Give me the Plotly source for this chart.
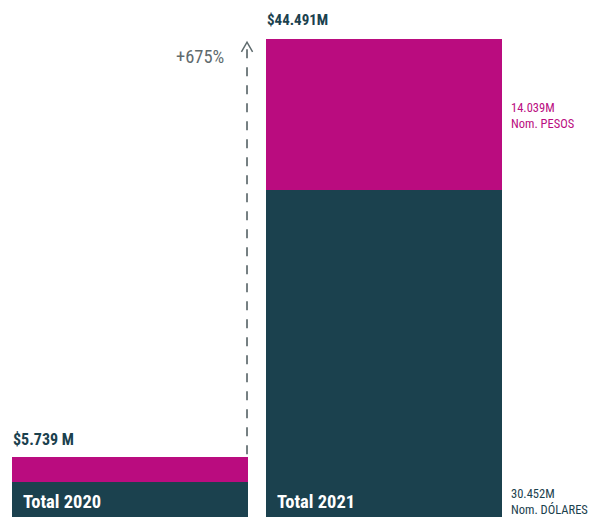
import plotly.graph_objects as go

categories = ["Total 2020", "Total 2021"]
dolares = [3.28, 30.452]
pesos = [2.35, 14.039]
totals_labels = ["$5.739 M", "$44.491M"]
totals = [5.739, 44.491]
growth_label = "+675%"

DARK = "#1B414E"
MAG = "#BA0C7F"
GREY = "#5F6B6E"
FONT = "Roboto Condensed, Roboto, sans-serif"

xs = [0, 1]
fig = go.Figure()
fig.add_bar(x=xs, y=dolares, marker=dict(color=DARK, line=dict(width=0)), width=0.929, hoverinfo="skip")
fig.add_bar(x=xs, y=pesos, marker=dict(color=MAG, line=dict(width=0)), width=0.929, hoverinfo="skip")

left = -0.929 / 2
ann = []
ann.append(dict(x=xs[0] + left, y=dolares[0] + pesos[0], text="<b>" + totals_labels[0] + "</b>",
                xanchor="left", yanchor="bottom", yshift=6, xshift=-1, showarrow=False,
                font=dict(family=FONT, size=16, color=DARK)))
ann.append(dict(x=xs[1] + left, y=totals[1], text="<b>" + totals_labels[1] + "</b>",
                xanchor="left", yanchor="bottom", yshift=8, xshift=-1, showarrow=False,
                font=dict(family=FONT, size=15, color=DARK)))
for i, c in enumerate(categories):
    ann.append(dict(x=xs[i] + left, y=0, text="<b>" + c + "</b>", xanchor="left", yanchor="bottom",
                    xshift=9, yshift=2, showarrow=False,
                    font=dict(family=FONT, size=18.5, color="white")))
ann.append(dict(x=xs[1] - left, y=dolares[1] + pesos[1] * 0.5, text="14.039M<br>Nom. PESOS",
                xanchor="left", yanchor="top", xshift=7, yshift=16, showarrow=False, align="left",
                font=dict(family=FONT, size=12.5, color=MAG)))
ann.append(dict(x=xs[1] - left, y=0, text="30.452M<br>Nom. DÓLARES",
                xanchor="left", yanchor="bottom", xshift=7, yshift=-2, showarrow=False, align="left",
                font=dict(family=FONT, size=12.5, color=DARK)))
ann.append(dict(x=0.4567, y=totals[1], text=growth_label, xanchor="right", yanchor="middle",
                xshift=-20, yshift=-18, showarrow=False,
                font=dict(family=FONT, size=18.5, color=GREY)))

ax = 0.4607
shapes = [
    dict(type="line", x0=ax, x1=ax, y0=totals[0] + 0.1, y1=totals[1] - 0.7,
         line=dict(color=GREY, width=1.7, dash="9px,9px")),
    dict(type="path",
         path=f"M {ax - 0.022},{totals[1] - 1.2} L {ax},{totals[1] - 0.3} L {ax + 0.022},{totals[1] - 1.2}",
         line=dict(color=GREY, width=1.5)),
]

fig.update_layout(
    barmode="stack", width=594, height=518, showlegend=False,
    margin=dict(l=0, r=0, t=0, b=1),
    paper_bgcolor="white", plot_bgcolor="white",
    xaxis=dict(range=[-0.5118, 1.8268], visible=False),
    yaxis=dict(range=[0, 48.12], visible=False),
    annotations=ann, shapes=shapes,
)
fig.write_html("out.html", config={"displayModeBar": False},
               post_script="document.body.style.margin='0';document.body.style.overflow='hidden';")
